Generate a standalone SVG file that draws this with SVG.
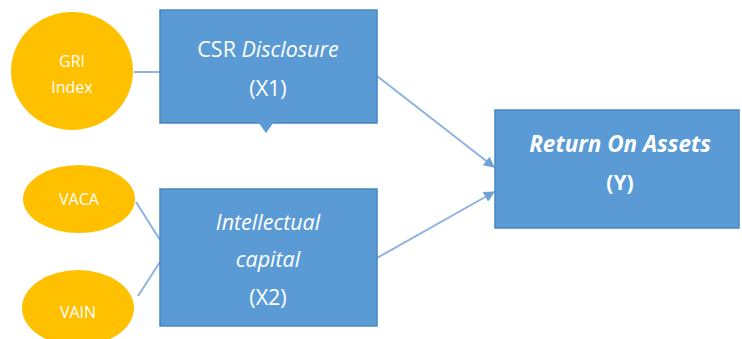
<svg xmlns="http://www.w3.org/2000/svg" width="742" height="339" viewBox="0 0 742 339">
<defs>
<style>
.box{fill:#5B9BD5;stroke:#4A86C0;stroke-width:1.5}
.ell{fill:#FFC000}
.t{fill:#FFFFFF;font-family:"Open Sans","DejaVu Sans",sans-serif;text-anchor:middle}
.c{stroke:#8DB3E0;stroke-width:2;fill:none}
</style>
<marker id="ah" viewBox="0 0 10 10" refX="9" refY="5" markerWidth="5.5" markerHeight="5.5" orient="auto">
<path d="M0,0 L10,5 L0,10 z" fill="#6FA3D8"/>
</marker>
</defs>
<rect width="742" height="339" fill="#FFFFFF"/>
<g id="connectors">
<line class="c" x1="134" y1="72" x2="160" y2="72"/>
<line class="c" x1="136" y1="202" x2="160" y2="240"/>
<line class="c" x1="138" y1="296" x2="160" y2="262"/>
<line class="c" x1="377" y1="76" x2="494" y2="167" marker-end="url(#ah)"/>
<line class="c" x1="377" y1="258" x2="494" y2="192" marker-end="url(#ah)"/>
</g>
<g id="gri">
<ellipse class="ell" cx="72" cy="71" rx="61" ry="59"/>
<text class="t" x="72" y="67" font-size="16">GRI</text>
<text class="t" x="72" y="93" font-size="16">Index</text>
</g>
<g id="csr">
<rect class="box" x="160" y="10" width="217" height="113"/>
<path d="M258,122 L266,133 L274,122 z" fill="#5B9BD5"/>
<text class="t" x="268" y="57" font-size="21.5">CSR <tspan font-style="italic">Disclosure</tspan></text>
<text class="t" x="268" y="96" font-size="21.5">(X1)</text>
</g>
<g id="vaca">
<ellipse class="ell" cx="79" cy="199" rx="56" ry="34"/>
<text class="t" x="79" y="205" font-size="16">VACA</text>
</g>
<g id="vain">
<ellipse class="ell" cx="78" cy="308" rx="56" ry="38"/>
<text class="t" x="78" y="318" font-size="16">VAIN</text>
</g>
<g id="ic">
<rect class="box" x="160" y="189" width="217" height="137"/>
<text class="t" x="268" y="230" font-size="21.5" font-style="italic">Intellectual</text>
<text class="t" x="268" y="267" font-size="21.5" font-style="italic">capital</text>
<text class="t" x="268" y="305" font-size="21.5">(X2)</text>
</g>
<g id="roa">
<rect class="box" x="495" y="110" width="244" height="118"/>
<text class="t" x="620" y="152" font-size="22.5" font-weight="bold" font-style="italic">Return On Assets</text>
<text class="t" x="620" y="190" font-size="21" font-weight="bold">(Y)</text>
</g>
</svg>
